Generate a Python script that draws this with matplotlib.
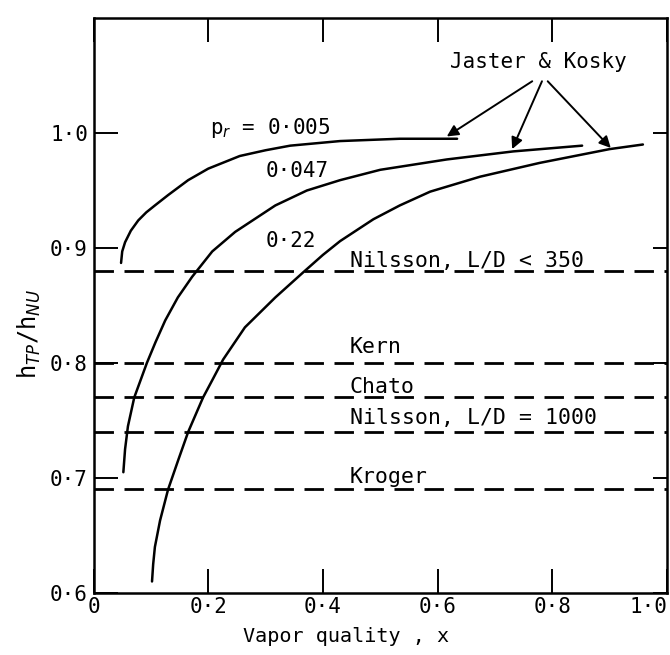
import numpy as np, matplotlib
matplotlib.use("Agg")
import matplotlib.pyplot as plt

plt.rcParams.update({"font.family": "DejaVu Sans Mono", "font.size": 15,
                     "mathtext.fontset": "dejavusans"})

x_005 = [0.048, 0.050, 0.055, 0.065, 0.078, 0.092, 0.107, 0.130, 0.165, 0.200, 0.255,
         0.300, 0.343, 0.430, 0.534, 0.634]
y_005 = [0.887, 0.897, 0.905, 0.915, 0.924, 0.931, 0.937, 0.946, 0.959, 0.969, 0.980,
         0.985, 0.989, 0.993, 0.995, 0.995]
x_047 = [0.052, 0.055, 0.060, 0.071, 0.082, 0.093, 0.108, 0.125, 0.147, 0.172, 0.207,
         0.247, 0.317, 0.372, 0.430, 0.500, 0.616, 0.732, 0.852]
y_047 = [0.705, 0.725, 0.745, 0.770, 0.785, 0.800, 0.818, 0.837, 0.857, 0.875, 0.897,
         0.914, 0.937, 0.950, 0.959, 0.968, 0.977, 0.984, 0.989]
x_22 = [0.102, 0.104, 0.107, 0.116, 0.130, 0.148, 0.165, 0.191, 0.207, 0.226, 0.264,
        0.317, 0.366, 0.400, 0.430, 0.488, 0.534, 0.587, 0.674, 0.778, 0.900, 0.958]
y_22 = [0.610, 0.625, 0.640, 0.663, 0.690, 0.716, 0.740, 0.770, 0.785, 0.803, 0.831,
        0.857, 0.879, 0.894, 0.906, 0.925, 0.937, 0.949, 0.962, 0.974, 0.986, 0.990]

# horizontal correlations
h_names = ["Nilsson, L/D < 350", "Kern", "Chato", "Nilsson, L/D = 1000", "Kroger"]
h_vals = [0.88, 0.80, 0.77, 0.74, 0.69]
h_label_y = [0.889, 0.814, 0.779, 0.752, 0.701]

xticks = [0, 0.2, 0.4, 0.6, 0.8, 1.0]
xtick_labels = ["0", "0·2", "0·4", "0·6", "0·8", "1·0"]
yticks = [0.6, 0.7, 0.8, 0.9, 1.0]
ytick_labels = ["0·6", "0·7", "0·8", "0·9", "1·0"]

fig = plt.figure(figsize=(6.7, 6.55), dpi=100)
ax = fig.add_axes([0.1396, 0.0947, 0.8559, 0.8778])
ax.set_xlim(0, 1.0); ax.set_ylim(0.6, 1.1)

for xs, ys in [(x_005, y_005), (x_047, y_047), (x_22, y_22)]:
    ax.plot(xs, ys, color="black", lw=1.8, solid_capstyle="round", solid_joinstyle="round")

for v in h_vals:
    ax.axhline(v, color="black", lw=2.0, dashes=(7, 3.8))
for name, ly in zip(h_names, h_label_y):
    ax.text(0.447, ly, name, ha="left", va="center", fontsize=15.5)

ax.text(0.203, 1.004, r"p$_r$ = 0·005", ha="left", va="center", fontsize=15)
ax.text(0.30, 0.967, "0·047", ha="left", va="center", fontsize=15)
ax.text(0.30, 0.906, "0·22", ha="left", va="center", fontsize=15)

ax.text(0.776, 1.062, "Jaster & Kosky", ha="center", va="center", fontsize=15)
tails = [(0.765, 1.045), (0.782, 1.045), (0.792, 1.045)]
heads = [(0.616, 0.997), (0.730, 0.986), (0.902, 0.987)]
for t, h in zip(tails, heads):
    ax.annotate("", xy=h, xytext=t,
                arrowprops=dict(arrowstyle="-|>", color="black", lw=1.4, mutation_scale=17,
                                shrinkA=0, shrinkB=0))

ax.set_xticks(xticks); ax.set_xticklabels(xtick_labels)
ax.set_yticks(yticks); ax.set_yticklabels(ytick_labels)
ax.tick_params(direction="in", length=17, width=1.4, top=True, labelsize=15, pad=4)
ax.tick_params(axis="x", pad=3)
ax.tick_params(axis="y", right=True)
for tk in ax.yaxis.get_major_ticks():
    tk.tick2line.set_markersize(10)
ax.get_xticklabels()[-1].set_horizontalalignment("right")
ax.get_xticklabels()[-1].set_x(1.0)
for s in ax.spines.values():
    s.set_linewidth(1.8)

ax.text(0.44, -0.075, "Vapor quality , x", transform=ax.transAxes,
        ha="center", va="center", fontsize=14.5)
ax.text(-0.112, 0.45, r"h$_{TP}$/h$_{NU}$", transform=ax.transAxes, rotation=90,
        ha="center", va="center", fontsize=17)

fig.savefig("out.png", dpi=100)
